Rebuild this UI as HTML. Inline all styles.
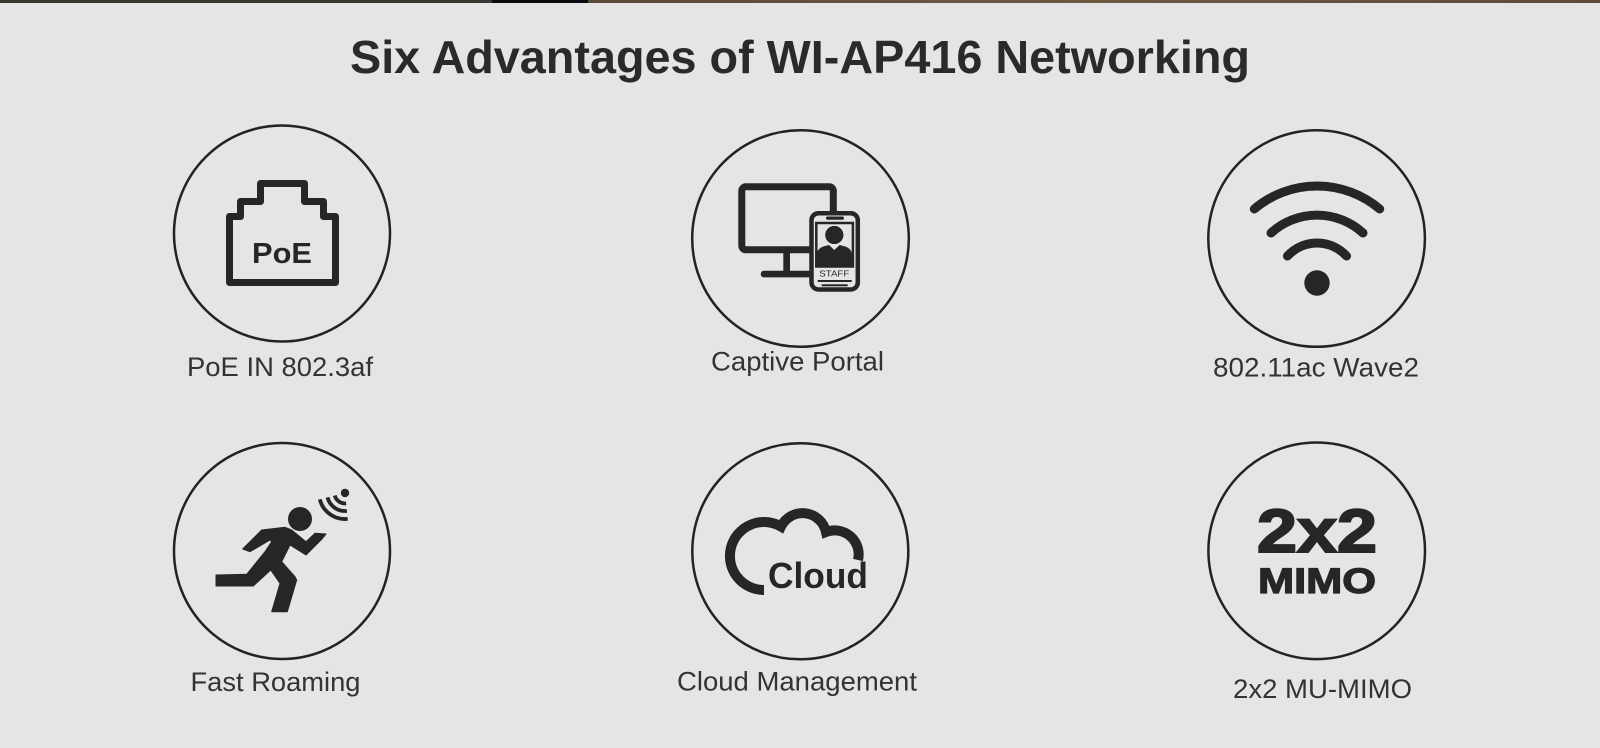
<!DOCTYPE html>
<html>
<head>
<meta charset="utf-8">
<style>
  html, body { margin: 0; padding: 0; background: #e5e5e5; }
  body { width: 1600px; height: 748px; overflow: hidden; }
  svg { display: block; }
</style>
</head>
<body>
<svg width="1600" height="748" viewBox="0 0 1600 748" xmlns="http://www.w3.org/2000/svg">
  <defs>
    <linearGradient id="topR" x1="0" x2="1" y1="0" y2="0">
      <stop offset="0" stop-color="#5a4a3a"/>
      <stop offset="0.5" stop-color="#6e5842"/>
      <stop offset="1" stop-color="#5e4b3a"/>
    </linearGradient>
  </defs>
  <rect x="0" y="0" width="1600" height="748" fill="#e5e5e5"/>
  <!-- top strip -->
  <rect x="0" y="0" width="492" height="3" fill="#3a3632"/>
  <rect x="492" y="0" width="96" height="3" fill="#0c0c0c"/>
  <rect x="588" y="0" width="1012" height="3" fill="url(#topR)"/>

  <!-- title -->
  <text x="350" y="73" font-family="Liberation Sans, Arial, sans-serif" font-weight="bold" font-size="46" fill="#2a2a2a" textLength="900" lengthAdjust="spacingAndGlyphs">Six Advantages of WI-AP416 Networking</text>

  <!-- circles -->
  <g fill="none" stroke="#232323" stroke-width="2.5">
    <circle cx="282" cy="233.5" r="108"/>
    <circle cx="800.5" cy="238.5" r="108.3"/>
    <circle cx="1316.6" cy="238.5" r="108.3"/>
    <circle cx="282" cy="551" r="108"/>
    <circle cx="800.3" cy="551.3" r="108"/>
    <circle cx="1316.7" cy="550.8" r="108.3"/>
  </g>

  <!-- PoE icon -->
  <path d="M229.5 282.5 L229.5 216.5 L240.5 216.5 L240.5 201.5 L260.5 201.5 L260.5 183.5 L304.5 183.5 L304.5 201.5 L323.5 201.5 L323.5 216.5 L335.5 216.5 L335.5 282.5 Z" fill="none" stroke="#262626" stroke-width="7" stroke-linejoin="round"/>
  <text x="252" y="263" font-family="Liberation Sans, Arial, sans-serif" font-weight="bold" font-size="29" fill="#262626" textLength="60" lengthAdjust="spacingAndGlyphs">PoE</text>

  <!-- Captive portal icon -->
  <g>
    <rect x="741.8" y="186.8" width="91.5" height="63" rx="4" fill="none" stroke="#262626" stroke-width="7"/>
    <rect x="783.3" y="252" width="6.7" height="20" fill="#262626"/>
    <rect x="760.7" y="270.7" width="55" height="6.7" rx="3.3" fill="#262626"/>
    <rect x="811.5" y="213.2" width="46.3" height="76.3" rx="7" fill="#e5e5e5" stroke="#262626" stroke-width="4.5"/>
    <rect x="826" y="216.5" width="18" height="3.2" rx="1.6" fill="#262626"/>
    <rect x="816.3" y="223" width="36.6" height="43.5" fill="none" stroke="#262626" stroke-width="2.5"/>
    <circle cx="834.3" cy="235" r="9"/>
    <path d="M815 266.7 L816.5 254 Q818 247.5 825 246 L829 245 L834.3 250 L839.6 245 L843.6 246 Q850.6 247.5 852.1 254 L853.6 266.7 Z" fill="#262626"/>
    <circle cx="834.3" cy="235" r="9" fill="#262626"/>
    <text x="819.3" y="276.7" font-family="Liberation Sans, Arial, sans-serif" font-size="8.5" fill="#262626" textLength="30" lengthAdjust="spacingAndGlyphs">STAFF</text>
    <rect x="817.7" y="280" width="34" height="2" fill="#262626"/>
    <rect x="821.7" y="284.3" width="26" height="2" fill="#262626"/>
  </g>

  <!-- WiFi icon -->
  <g fill="none" stroke="#262626" stroke-width="9" stroke-linecap="round">
    <path d="M1287.5 256 A40 40 0 0 1 1346.5 256"/>
    <path d="M1271 233 A68 68 0 0 1 1363 233"/>
    <path d="M1254.3 209 A97 97 0 0 1 1379.7 209"/>
  </g>
  <circle cx="1317" cy="283" r="12.7" fill="#262626"/>

  <!-- Fast roaming icon -->
  <circle cx="300" cy="519" r="12" fill="#262626"/>
  <path d="M242.7 549 L261.7 530 L285 527.3 L291.7 530 L306 541.7 L315 533.3 L326 534 L321.7 539.3 L306 555 L290 545 L281.7 561.7 L295 576.7 L296.7 580 L287.3 611.7 L271.7 611.7 L280 583.3 L270.7 570 L253.3 586 L216 586 L216 575 L246.7 574.3 L265 551.7 L271.7 541.7 L270 540 L250 551.7 Z" fill="#262626" stroke="#262626" stroke-width="1" stroke-linejoin="round"/>
  <g fill="none" stroke="#262626" stroke-width="3.8">
    <path d="M319.8 499.3 A26 26 0 0 0 347.7 518.9"/>
    <path d="M327.5 497.4 A18 18 0 0 0 346.9 510.9"/>
    <path d="M334.8 495.5 A10.5 10.5 0 0 0 346.1 503.4"/>
  </g>
  <circle cx="345" cy="493" r="4.2" fill="#262626"/>

  <!-- Cloud icon -->
  <path d="M764 590 A34 34 0 1 1 781 526.6 A24 24 0 0 1 826 532 A24 24 0 0 1 858 560" fill="none" stroke="#262626" stroke-width="10"/>
  <text x="768" y="588" font-family="Liberation Sans, Arial, sans-serif" font-weight="bold" font-size="36" fill="#262626" textLength="100" lengthAdjust="spacingAndGlyphs">Cloud</text>

  <!-- MIMO icon -->
  <text x="1257" y="552" font-family="Liberation Sans, Arial, sans-serif" font-weight="bold" font-size="61" fill="#262626" stroke="#262626" stroke-width="2" textLength="120" lengthAdjust="spacingAndGlyphs">2x2</text>
  <text x="1258" y="593" font-family="Liberation Sans, Arial, sans-serif" font-weight="bold" font-size="35" fill="#262626" stroke="#262626" stroke-width="1.2" textLength="118" lengthAdjust="spacingAndGlyphs">MIMO</text>

  <!-- labels -->
  <g font-family="Liberation Sans, Arial, sans-serif" font-size="27" fill="#333333">
    <text x="187" y="376" textLength="186" lengthAdjust="spacingAndGlyphs">PoE IN 802.3af</text>
    <text x="711" y="370.5" textLength="173" lengthAdjust="spacingAndGlyphs">Captive Portal</text>
    <text x="1213" y="376.5" textLength="206" lengthAdjust="spacingAndGlyphs">802.11ac Wave2</text>
    <text x="190.5" y="691" textLength="170" lengthAdjust="spacingAndGlyphs">Fast Roaming</text>
    <text x="677" y="690.5" textLength="240" lengthAdjust="spacingAndGlyphs">Cloud Management</text>
    <text x="1233" y="698" textLength="179" lengthAdjust="spacingAndGlyphs">2x2 MU-MIMO</text>
  </g>
</svg>
</body>
</html>
